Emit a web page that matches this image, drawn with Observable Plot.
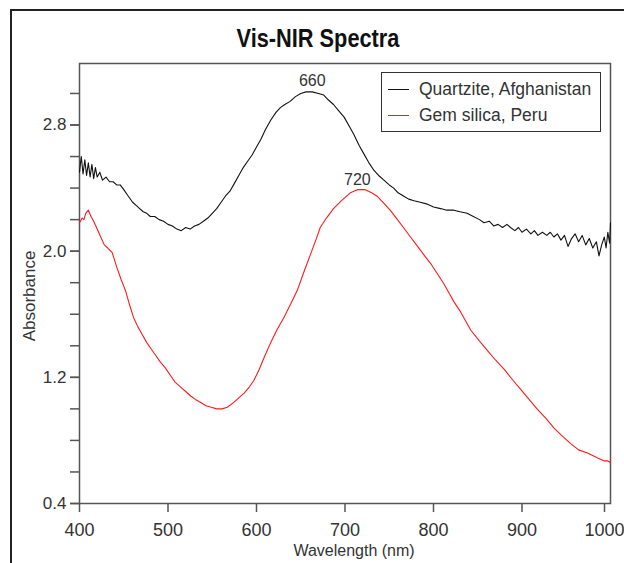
<!DOCTYPE html>
<html>
<head>
<meta charset="utf-8">
<script src="https://cdn.jsdelivr.net/npm/d3@7"></script>
<script src="https://cdn.jsdelivr.net/npm/@observablehq/plot@0.6"></script>
<style>
  html, body { margin: 0; padding: 0; background: #fff; overflow: hidden; }
  #wrap { position: relative; width: 624px; height: 563px; font-family: "Liberation Sans", Arial, sans-serif; color: #333; }
  #outer { position: absolute; left: 10px; top: 9px; width: 700px; height: 700px; border-left: 2.5px solid #222; border-top: 2.5px solid #222; }
  #title { position: absolute; left: 318px; top: 26px; transform: translateX(-50%) scaleX(0.87); white-space: nowrap; font-family: "Liberation Sans", Arial, sans-serif; font-weight: bold; font-size: 25px; line-height: 25px; color: #111; }
  #chart { position: absolute; left: 0; top: 0; }
  #xlab { position: absolute; left: 354px; top: 543px; transform: translateX(-50%); font-size: 16px; line-height: 16px; white-space: nowrap; }
  #ylab { position: absolute; left: 29px; top: 296px; transform: translate(-50%, -50%) rotate(-90deg); font-size: 17px; line-height: 17px; white-space: nowrap; }
  #legend { position: absolute; left: 381px; top: 72px; width: 218px; height: 58px; border: 1.5px solid #333; background: #fff; font-size: 17.5px; }
  .item { position: absolute; left: 0; height: 20px; width: 218px; }
  .sw { position: absolute; left: 6px; top: 10px; width: 21px; height: 0; border-top: 1.6px solid; }
  .lt { position: absolute; left: 37px; top: 0; line-height: 20px; white-space: nowrap; color: #333; }
</style>
</head>
<body>
<div id="wrap">
  <div id="outer"></div>
  <div id="chart"></div>
  <div id="title">Vis-NIR Spectra</div>
  <div id="xlab">Wavelength (nm)</div>
  <div id="ylab">Absorbance</div>
  <div id="legend"></div>
</div>
<script>
// ---- Data ----
const seriesNames = ["Quartzite, Afghanistan", "Gem silica, Peru"];
const seriesColors = ["#111111", "#ff1a1a"];

const quartzWl = [400,402,404,406,408,410,412,414,416,418,420,423,426,430,434,438,442,446,450,455,460,464,468,472,476,480,485,490,495,500,505,510,515,520,525,530,535,540,545,550,555,560,565,570,575,580,585,590,595,600,605,610,616,622,627,632,638,644,650,656,663,670,676,681,687,693,699,705,710,716,721,727,733,738,744,750,755,760,766,772,778,785,792,800,808,815,823,830,838,845,852,857,863,868,873,878,883,887,892,896,900,905,910,914,918,923,928,932,936,940,944,948,952,956,960,964,968,972,976,980,984,987,990,993,995,997,999,1000];
const quartzAbs = [2.50,2.60,2.49,2.58,2.48,2.56,2.47,2.55,2.46,2.53,2.47,2.50,2.45,2.47,2.44,2.44,2.42,2.42,2.39,2.35,2.31,2.29,2.27,2.25,2.24,2.22,2.22,2.20,2.19,2.17,2.16,2.14,2.13,2.15,2.14,2.16,2.17,2.19,2.21,2.24,2.27,2.31,2.35,2.38,2.43,2.48,2.53,2.57,2.61,2.66,2.71,2.77,2.83,2.88,2.91,2.93,2.95,2.98,3.00,3.01,3.01,3.00,2.99,2.96,2.93,2.89,2.85,2.79,2.74,2.67,2.62,2.56,2.51,2.48,2.45,2.42,2.40,2.37,2.35,2.33,2.32,2.31,2.30,2.28,2.27,2.26,2.26,2.25,2.24,2.22,2.20,2.18,2.19,2.16,2.17,2.15,2.17,2.15,2.13,2.15,2.12,2.14,2.11,2.13,2.10,2.12,2.10,2.12,2.09,2.11,2.07,2.10,2.03,2.08,2.11,2.06,2.10,2.04,2.08,2.02,2.06,1.97,2.04,2.09,2.02,2.12,2.05,2.18];

const silicaWl = [400,403,405,407,410,413,416,420,424,428,432,437,442,447,452,456,461,466,471,476,481,486,491,497,503,508,514,520,526,531,537,543,549,555,561,567,574,580,586,592,597,603,609,616,623,631,639,646,653,661,667,672,679,687,696,706,714,723,730,736,743,751,758,766,774,782,790,797,804,812,818,823,830,836,842,852,861,870,880,890,899,908,917,927,936,945,955,964,974,985,993,997,1000];
const silicaAbs = [2.18,2.21,2.20,2.24,2.26,2.22,2.19,2.14,2.09,2.04,2.02,1.99,1.90,1.82,1.75,1.67,1.58,1.52,1.47,1.42,1.38,1.34,1.30,1.26,1.21,1.17,1.14,1.11,1.08,1.06,1.04,1.02,1.01,1.00,1.00,1.01,1.04,1.07,1.10,1.14,1.18,1.25,1.33,1.42,1.50,1.58,1.67,1.75,1.86,1.98,2.07,2.15,2.21,2.27,2.32,2.37,2.39,2.39,2.37,2.35,2.31,2.26,2.21,2.15,2.09,2.03,1.97,1.92,1.86,1.79,1.73,1.68,1.62,1.56,1.50,1.43,1.37,1.31,1.25,1.18,1.12,1.06,1.00,0.94,0.88,0.83,0.78,0.74,0.72,0.69,0.67,0.67,0.66];

const peakLabels = ["660", "720"];
const peakWl = [663, 714];
const peakAbs = [3.08, 2.45];

const xTicks = [400, 500, 600, 700, 800, 900];
const xLastTick = [1000];
const yMinorTicks = [0.4, 0.6, 0.8, 1.0, 1.2, 1.4, 1.6, 1.8, 2.0, 2.2, 2.4, 2.6, 2.8, 3.0];
const yLabelTicks = [0.4, 1.2, 2.0, 2.8];
const xDomain = [400, 1000];
const yDomain = [0.4, 3.19];

// ---- Build tables ----
const quartz = quartzWl.map((w, i) => ({w, a: quartzAbs[i]}));
const silica = silicaWl.map((w, i) => ({w, a: silicaAbs[i]}));
const peaks = peakLabels.map((t, i) => ({t, w: peakWl[i], a: peakAbs[i]}));

const axisStyle = {tickSize: 9, stroke: "#555", strokeWidth: 1.5, fill: "#333", label: null};

const plot = Plot.plot({
  width: 624,
  height: 563,
  marginLeft: 79,
  marginRight: 14,
  marginTop: 63,
  marginBottom: 60,
  style: {fontFamily: "'Liberation Sans', Arial, sans-serif", fontSize: "17px", color: "#333", background: "transparent", overflow: "visible"},
  x: {domain: xDomain},
  y: {domain: yDomain},
  marks: [
    Plot.axisX({...axisStyle, ticks: xTicks, tickPadding: 11, fontSize: 18, tickFormat: d => String(d)}),
    Plot.axisX({...axisStyle, ticks: xLastTick, tickPadding: 11, fontSize: 18, dx: -6, tickFormat: d => String(d)}),
    Plot.axisY({...axisStyle, ticks: yMinorTicks, text: null}),
    Plot.axisY({...axisStyle, ticks: yLabelTicks, tickPadding: 4, fontSize: 17, tickFormat: d => d.toFixed(1)}),
    Plot.frame({stroke: "#555", strokeWidth: 1.5}),
    Plot.line(quartz, {x: "w", y: "a", stroke: seriesColors[0], strokeWidth: 1.1}),
    Plot.line(silica, {x: "w", y: "a", stroke: seriesColors[1], strokeWidth: 1.1}),
    Plot.text(peaks, {x: "w", y: "a", text: "t", fontSize: 16, fill: "#333"})
  ]
});
document.getElementById("chart").appendChild(plot);

// ---- Legend ----
const legend = document.getElementById("legend");
seriesNames.forEach((name, i) => {
  const item = document.createElement("div");
  item.className = "item";
  item.style.top = (6 + i * 26) + "px";
  const sw = document.createElement("div");
  sw.className = "sw";
  sw.style.borderTopColor = seriesColors[i];
  const lt = document.createElement("div");
  lt.className = "lt";
  lt.textContent = name;
  item.appendChild(sw);
  item.appendChild(lt);
  legend.appendChild(item);
});
</script>
</body>
</html>
